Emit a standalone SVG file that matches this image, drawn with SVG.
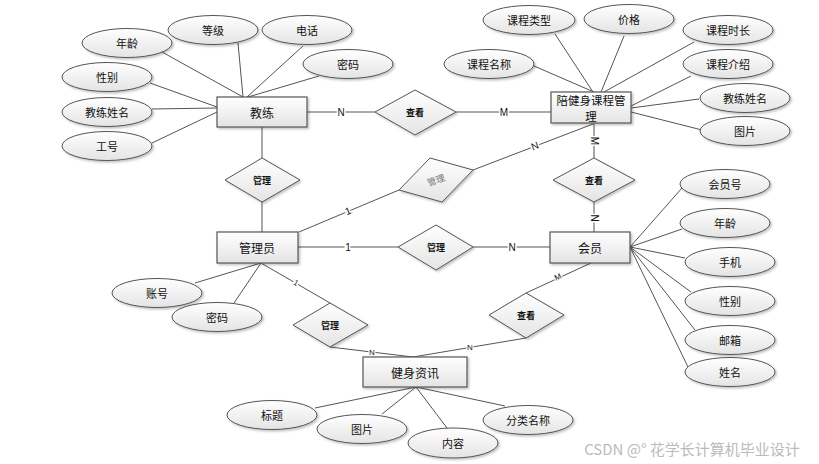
<svg xmlns="http://www.w3.org/2000/svg" width="819" height="464" viewBox="0 0 819 464">
<defs>
<linearGradient id="g" x1="0" y1="0" x2="0" y2="1">
<stop offset="0" stop-color="#ffffff"/>
<stop offset="1" stop-color="#e4e4e4"/>
</linearGradient>
<filter id="sh" x="-10%" y="-10%" width="130%" height="140%">
<feDropShadow dx="1.5" dy="1.5" stdDeviation="1" flood-color="#000" flood-opacity="0.25"/>
</filter>
</defs>
<style>
.e{fill:url(#g);stroke:#555;stroke-width:1;filter:url(#sh)}
.b{fill:url(#g);stroke:#555;stroke-width:1.2;filter:url(#sh)}
.d{fill:url(#g);stroke:#555;stroke-width:1;filter:url(#sh)}
.t{font-family:"Noto Sans CJK SC","Liberation Sans",sans-serif;font-size:11px;fill:#111;text-anchor:middle;dominant-baseline:central}
.tb{font-family:"Noto Sans CJK SC","Liberation Sans",sans-serif;font-size:12px;fill:#111;text-anchor:middle;dominant-baseline:central}
.td{font-family:"Noto Sans CJK SC","Liberation Sans",sans-serif;font-size:9px;font-weight:bold;fill:#111;text-anchor:middle;dominant-baseline:central}
.c line{stroke:#555;stroke-width:1}
.l{font-family:"Liberation Sans",sans-serif;font-size:10px;fill:#111;text-anchor:middle;dominant-baseline:central;stroke:#fff;stroke-width:3;paint-order:stroke}
.ls{font-family:"Liberation Sans",sans-serif;font-size:8px;fill:#111;text-anchor:middle;dominant-baseline:central;stroke:#fff;stroke-width:2.5;paint-order:stroke}
</style>
<g id="connectors" class="c">
<line x1="162" y1="52" x2="243" y2="97"/>
<line x1="238" y1="43" x2="243" y2="97"/>
<line x1="303" y1="46" x2="247" y2="97"/>
<line x1="319" y1="76" x2="248" y2="97"/>
<line x1="150" y1="83" x2="217" y2="107"/>
<line x1="152" y1="109" x2="217" y2="108"/>
<line x1="152" y1="143" x2="217" y2="112"/>
<line x1="307" y1="112" x2="375" y2="112"/>
<line x1="456" y1="112" x2="551" y2="112"/>
<line x1="534" y1="66" x2="594" y2="92"/>
<line x1="555" y1="34" x2="593" y2="92"/>
<line x1="624" y1="36" x2="601" y2="92"/>
<line x1="694" y1="42" x2="604" y2="92"/>
<line x1="691" y1="76" x2="631" y2="106"/>
<line x1="699" y1="99" x2="631" y2="108"/>
<line x1="702" y1="130" x2="631" y2="112"/>
<line x1="594" y1="123" x2="594" y2="158"/>
<line x1="594" y1="202" x2="594" y2="232"/>
<line x1="262" y1="127" x2="262" y2="158"/>
<line x1="262" y1="202" x2="262" y2="232"/>
<line x1="299" y1="232" x2="399" y2="190"/>
<line x1="473" y1="170" x2="593" y2="124"/>
<line x1="298" y1="247" x2="398" y2="247"/>
<line x1="473" y1="247" x2="550" y2="247"/>
<line x1="630" y1="247" x2="682" y2="188"/>
<line x1="630" y1="247" x2="682" y2="229"/>
<line x1="630" y1="247" x2="685" y2="258"/>
<line x1="630" y1="247" x2="691" y2="292"/>
<line x1="630" y1="247" x2="695" y2="330"/>
<line x1="630" y1="247" x2="688" y2="367"/>
<line x1="261" y1="263" x2="195" y2="283"/>
<line x1="261" y1="263" x2="234" y2="303"/>
<line x1="261" y1="263" x2="330" y2="303"/>
<line x1="330" y1="347" x2="413" y2="357"/>
<line x1="526" y1="293" x2="591" y2="263"/>
<line x1="526" y1="338" x2="413" y2="357"/>
<line x1="416" y1="387" x2="315" y2="408"/>
<line x1="416" y1="387" x2="382" y2="414"/>
<line x1="416" y1="387" x2="447" y2="428"/>
<line x1="416" y1="387" x2="505" y2="406"/>
<text class="l" x="341" y="112">N</text>
<text class="l" x="504" y="112">M</text>
<text class="l" x="594" y="141" transform="rotate(90 594 141)">M</text>
<text class="l" x="594" y="218" transform="rotate(90 594 218)">N</text>
<text class="l" x="348" y="211" transform="rotate(-23 348 211)">1</text>
<text class="l" x="535" y="146" transform="rotate(-21 535 146)">N</text>
<text class="l" x="348" y="247">1</text>
<text class="l" x="512" y="247">N</text>
<text class="ls" x="296" y="283" transform="rotate(30 296 283)">1</text>
<text class="ls" x="372" y="352">N</text>
<text class="ls" x="558" y="277" transform="rotate(-25 558 277)">M</text>
<text class="ls" x="470" y="347">N</text>
</g>
<g id="n-jiaolian"><rect class="b" x="217" y="97" width="90" height="30"/><text class="tb" x="262" y="112">教练</text></g>
<g id="a-nianling"><ellipse class="e" cx="127" cy="43" rx="45" ry="14.5"/><text class="t" x="127" y="43">年龄</text></g>
<g id="a-dengji"><ellipse class="e" cx="213" cy="30" rx="45" ry="14.5"/><text class="t" x="213" y="30">等级</text></g>
<g id="a-dianhua"><ellipse class="e" cx="307" cy="30" rx="45" ry="14.5"/><text class="t" x="307" y="30">电话</text></g>
<g id="a-mima1"><ellipse class="e" cx="348" cy="64" rx="45" ry="14.5"/><text class="t" x="348" y="64">密码</text></g>
<g id="a-xingbie1"><ellipse class="e" cx="107" cy="77" rx="45" ry="14.5"/><text class="t" x="107" y="77">性别</text></g>
<g id="a-jlxm1"><ellipse class="e" cx="107" cy="112" rx="45" ry="14.5"/><text class="t" x="107" y="112">教练姓名</text></g>
<g id="a-gonghao"><ellipse class="e" cx="107" cy="146" rx="45" ry="14.5"/><text class="t" x="107" y="146">工号</text></g>
<g id="r-chakan1"><polygon class="d" points="375,112 415,90 456,112 415,135"/><text class="td" x="415" y="112">查看</text></g>
<g id="n-kecheng"><rect class="b" x="551" y="92" width="80" height="31"/><text class="tb" x="591" y="100" style="font-size:11.5px">陪健身课程管</text><text class="tb" x="591" y="116" style="font-size:11.5px">理</text></g>
<g id="a-kclx"><ellipse class="e" cx="529" cy="20" rx="46" ry="14.5"/><text class="t" x="529" y="20">课程类型</text></g>
<g id="a-jiage"><ellipse class="e" cx="629" cy="19" rx="45" ry="14.5"/><text class="t" x="629" y="19">价格</text></g>
<g id="a-kcsc"><ellipse class="e" cx="728" cy="30" rx="45" ry="14.5"/><text class="t" x="728" y="30">课程时长</text></g>
<g id="a-kcjs"><ellipse class="e" cx="728" cy="64" rx="45" ry="14.5"/><text class="t" x="728" y="64">课程介绍</text></g>
<g id="a-jlxm2"><ellipse class="e" cx="745" cy="98" rx="45" ry="14.5"/><text class="t" x="745" y="98">教练姓名</text></g>
<g id="a-tupian1"><ellipse class="e" cx="745" cy="131" rx="45" ry="14.5"/><text class="t" x="745" y="131">图片</text></g>
<g id="a-kcmc"><ellipse class="e" cx="489" cy="64" rx="45" ry="14.5"/><text class="t" x="489" y="64">课程名称</text></g>
<g id="r-chakan2"><polygon class="d" points="553,180 594,158 635,180 594,202"/><text class="td" x="594" y="180">查看</text></g>
<g id="r-guanli1"><polygon class="d" points="225,180 262,158 300,180 262,202"/><text class="td" x="262" y="180">管理</text></g>
<g id="r-guanli2"><polygon class="d" points="399,190 430,158 473,170 442,202"/><text class="td" x="436" y="180" transform="rotate(-20 436 180)" style="fill:#777;font-weight:normal">管理</text></g>
<g id="n-guanliyuan"><rect class="b" x="217" y="232" width="81" height="31"/><text class="tb" x="257" y="247">管理员</text></g>
<g id="r-guanli3"><polygon class="d" points="398,247 436,225 473,247 436,270"/><text class="td" x="436" y="247">管理</text></g>
<g id="n-huiyuan"><rect class="b" x="550" y="232" width="80" height="31"/><text class="tb" x="590" y="247">会员</text></g>
<g id="a-hyh"><ellipse class="e" cx="725" cy="184" rx="45" ry="14.5"/><text class="t" x="725" y="184">会员号</text></g>
<g id="a-nianling2"><ellipse class="e" cx="725" cy="223" rx="45" ry="14.5"/><text class="t" x="725" y="223">年龄</text></g>
<g id="a-shouji"><ellipse class="e" cx="730" cy="262" rx="45" ry="14.5"/><text class="t" x="730" y="262">手机</text></g>
<g id="a-xingbie2"><ellipse class="e" cx="730" cy="301" rx="45" ry="14.5"/><text class="t" x="730" y="301">性别</text></g>
<g id="a-youxiang"><ellipse class="e" cx="730" cy="340" rx="45" ry="14.5"/><text class="t" x="730" y="340">邮箱</text></g>
<g id="a-xingming"><ellipse class="e" cx="730" cy="372" rx="45" ry="14.5"/><text class="t" x="730" y="372">姓名</text></g>
<g id="a-zhanghao"><ellipse class="e" cx="157" cy="293" rx="45" ry="14.5"/><text class="t" x="157" y="293">账号</text></g>
<g id="a-mima2"><ellipse class="e" cx="217" cy="317" rx="45" ry="14.5"/><text class="t" x="217" y="317">密码</text></g>
<g id="r-guanli4"><polygon class="d" points="293,325 330,303 368,325 330,347"/><text class="td" x="330" y="325">管理</text></g>
<g id="r-chakan3"><polygon class="d" points="489,315 526,293 564,315 526,338"/><text class="td" x="526" y="315">查看</text></g>
<g id="n-zixun"><rect class="b" x="363" y="357" width="104" height="30"/><text class="tb" x="415" y="372">健身资讯</text></g>
<g id="a-biaoti"><ellipse class="e" cx="272" cy="415" rx="45" ry="14.5"/><text class="t" x="272" y="415">标题</text></g>
<g id="a-tupian2"><ellipse class="e" cx="362" cy="429" rx="45" ry="14.5"/><text class="t" x="362" y="429">图片</text></g>
<g id="a-neirong"><ellipse class="e" cx="453" cy="443" rx="45" ry="15"/><text class="t" x="453" y="443">内容</text></g>
<g id="a-flmc"><ellipse class="e" cx="528" cy="420" rx="45" ry="14.5"/><text class="t" x="528" y="420">分类名称</text></g>
<text x="692" y="448" style="font-family:'Noto Sans CJK SC','Liberation Sans',sans-serif;font-size:15px;fill:#bbb;text-anchor:middle;dominant-baseline:central">CSDN @° 花学长计算机毕业设计</text>
</svg>
